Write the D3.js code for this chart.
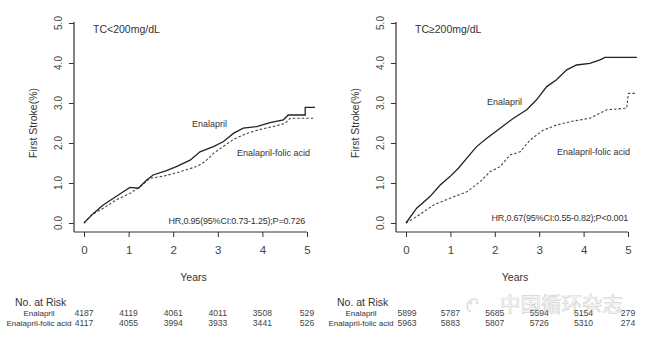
<!DOCTYPE html>
<html>
<head>
<meta charset="utf-8">
<script src="https://cdn.jsdelivr.net/npm/d3@7"></script>
<style>
  body { margin: 0; background: #fff; }
  svg text { font-family: "Liberation Sans", Arial, sans-serif; fill: #333; }
</style>
</head>
<body>
<svg id="chart" width="655" height="346"></svg>
<script>
// values: [years, cumulative first stroke %]
var lowEnal = [[0,0],[0.21,0.24],[0.43,0.45],[0.66,0.62],[0.88,0.78],[1.03,0.89],[1.22,0.87],[1.4,1.07],[1.55,1.2],[1.85,1.31],[2.07,1.41],[2.38,1.57],[2.6,1.78],[2.9,1.91],[3.12,2.03],[3.35,2.24],[3.57,2.37],[3.87,2.41],[4.17,2.51],[4.47,2.58],[4.58,2.7],[4.96,2.7],[4.96,2.89],[5.18,2.89]];
var lowFolic = [[0,0],[0.17,0.2],[0.43,0.37],[0.73,0.58],[1.03,0.74],[1.26,0.91],[1.48,1.12],[1.78,1.17],[2.15,1.28],[2.52,1.41],[2.71,1.53],[2.9,1.74],[3.12,1.91],[3.35,2.09],[3.65,2.24],[3.95,2.34],[4.24,2.41],[4.51,2.49],[4.62,2.62],[5.18,2.62]];
var highEnal = [[0,0],[0.24,0.37],[0.54,0.66],[0.77,0.95],[0.99,1.16],[1.18,1.37],[1.37,1.62],[1.59,1.91],[1.82,2.12],[2.12,2.37],[2.42,2.62],[2.72,2.83],[2.94,3.08],[3.17,3.41],[3.39,3.58],[3.62,3.83],[3.84,3.95],[4.14,3.99],[4.37,4.08],[4.48,4.14],[5.2,4.14]];
var highFolic = [[0,0],[0.24,0.16],[0.62,0.45],[0.99,0.62],[1.37,0.78],[1.67,1.03],[1.89,1.28],[2.12,1.41],[2.34,1.7],[2.57,1.78],[2.79,2.07],[3.09,2.32],[3.39,2.45],[3.77,2.55],[4.14,2.62],[4.52,2.83],[4.97,2.87],[5.01,3.24],[5.2,3.24]];

var yearTicks = [0, 1, 2, 3, 4, 5];
var pctTicks = [0, 1, 2, 3, 4, 5];
var groupNames = ["Enalapril", "Enalapril-folic acid"];

var lowRiskEnal = [4187, 4119, 4061, 4011, 3508, 529];
var lowRiskFolic = [4117, 4055, 3994, 3933, 3441, 526];
var highRiskEnal = [5899, 5787, 5685, 5594, 5154, 279];
var highRiskFolic = [5963, 5883, 5807, 5726, 5310, 274];

var svg = d3.select("#chart");

function panel(opt) {
  var g = svg.append("g");
  var x = d3.scaleLinear().domain([0, 5]).range([opt.x0, opt.x1]);
  var y = d3.scaleLinear().domain([0, 5]).range([223, 23]);
  var axX = opt.x0 - 10;

  // L shaped frame
  g.append("line").attr("x1", axX).attr("x2", axX).attr("y1", 22).attr("y2", 232)
    .attr("stroke", "#333").attr("stroke-width", 1.2);
  g.append("line").attr("x1", axX).attr("x2", opt.x1).attr("y1", 232).attr("y2", 232)
    .attr("stroke", "#333").attr("stroke-width", 1.2);

  var ya = g.append("g").attr("transform", "translate(" + axX + ",0)")
    .call(d3.axisLeft(y).tickValues(pctTicks).tickSize(5).tickFormat(""));
  ya.select(".domain").remove();
  ya.selectAll("line").attr("stroke", "#333");
  // rotated tick labels, R style
  g.selectAll(null).data(pctTicks).enter().append("text")
    .attr("transform", function(d) { return "translate(" + (axX - 16) + "," + y(d) + ") rotate(-90)"; })
    .attr("text-anchor", "middle").attr("dy", "0.35em")
    .style("font-size", "10px").style("fill", "#444")
    .text(d3.format(".1f"));

  var xa = g.append("g").attr("transform", "translate(0,232)")
    .call(d3.axisBottom(x).tickValues(yearTicks).tickSize(5).tickFormat(d3.format("d")));
  xa.select(".domain").remove();
  xa.selectAll("line").attr("stroke", "#333");
  xa.selectAll("text").attr("y", 14).attr("dy", "0.71em")
    .style("font-size", "11.5px").style("fill", "#444");

  var line = d3.line().x(function(d) { return x(d[0]); }).y(function(d) { return y(d[1]); });
  g.append("path").datum(opt.folic).attr("d", line).attr("fill", "none")
    .attr("stroke", "#444").attr("stroke-width", 1.1).attr("stroke-dasharray", "2.5,2");
  g.append("path").datum(opt.enal).attr("d", line).attr("fill", "none")
    .attr("stroke", "#222").attr("stroke-width", 1.3);

  g.append("text").attr("x", opt.x0 + 9).attr("y", 33).style("font-size", "10.5px").text(opt.title);
  g.append("text").attr("x", opt.enalLab[0]).attr("y", opt.enalLab[1]).style("font-size", "9px").text(groupNames[0]);
  g.append("text").attr("x", opt.folicLab[0]).attr("y", opt.folicLab[1]).style("font-size", "9px").text(groupNames[1]);
  g.append("text").attr("x", opt.hrX).attr("y", opt.hrY).attr("text-anchor", "end")
    .style("font-size", "9px").style("letter-spacing", "-0.2px").text(opt.hr);

  g.append("text").attr("transform", "translate(" + (opt.x0 - 47) + ",123) rotate(-90)")
    .attr("text-anchor", "middle").style("font-size", "10.5px").text("First Stroke(%)");
  g.append("text").attr("x", (opt.x0 + opt.x1) / 2 - 2).attr("y", 281).attr("text-anchor", "middle")
    .style("font-size", "10.5px").text("Years");

  // number at risk table
  g.append("text").attr("x", opt.x0 - opt.tableOff).attr("y", 306).style("font-size", "10.5px").text("No. at Risk");
  [opt.riskEnal, opt.riskFolic].forEach(function(row, i) {
    var ty = 316 + i * 9.5;
    g.append("text").attr("x", opt.x0 - 45).attr("y", ty).attr("text-anchor", "middle")
      .style("font-size", "8px").text(groupNames[i]);
    g.selectAll(null).data(row).enter().append("text")
      .attr("x", function(d, j) { return x(j) + (j === 0 ? opt.firstShift : 0); })
      .attr("y", ty).attr("text-anchor", "middle").style("font-size", "8.6px").style("fill", "#444")
      .text(function(d) { return d; });
  });
}

panel({
  x0: 84, x1: 307, title: "TC<200mg/dL", enal: lowEnal, folic: lowFolic,
  enalLab: [192, 127], folicLab: [237, 156], hr: "HR,0.95(95%CI:0.73-1.25);P=0.726", hrX: 305, hrY: 224,
  riskEnal: lowRiskEnal, riskFolic: lowRiskFolic, tableOff: 69, firstShift: 0
});
panel({
  x0: 406, x1: 628, title: "TC\u2265200mg/dL", enal: highEnal, folic: highFolic,
  enalLab: [487, 105], folicLab: [557, 155], hr: "HR,0.67(95%CI:0.55-0.82);P<0.001", hrX: 628, hrY: 221,
  riskEnal: highRiskEnal, riskFolic: highRiskFolic, tableOff: 69, firstShift: 1
});

// watermark
var wm = svg.append("g").attr("opacity", 0.5);
wm.append("path").attr("d", d3.arc()({ innerRadius: 6, outerRadius: 7.5, startAngle: 3.6, endAngle: 6.9 }))
  .attr("transform", "translate(474,306)").attr("fill", "#bbb");
wm.append("circle").attr("cx", 471).attr("cy", 303).attr("r", 1.5).attr("fill", "#bbb");
wm.append("circle").attr("cx", 477).attr("cy", 303).attr("r", 1.5).attr("fill", "#bbb");
wm.append("text").attr("x", 500).attr("y", 312).style("font-family", "'Noto Sans CJK SC', sans-serif")
  .style("font-size", "20.5px").style("fill", "none").style("stroke", "#aaa").style("stroke-width", 0.7)
  .text("中国循环杂志");
</script>
</body>
</html>
